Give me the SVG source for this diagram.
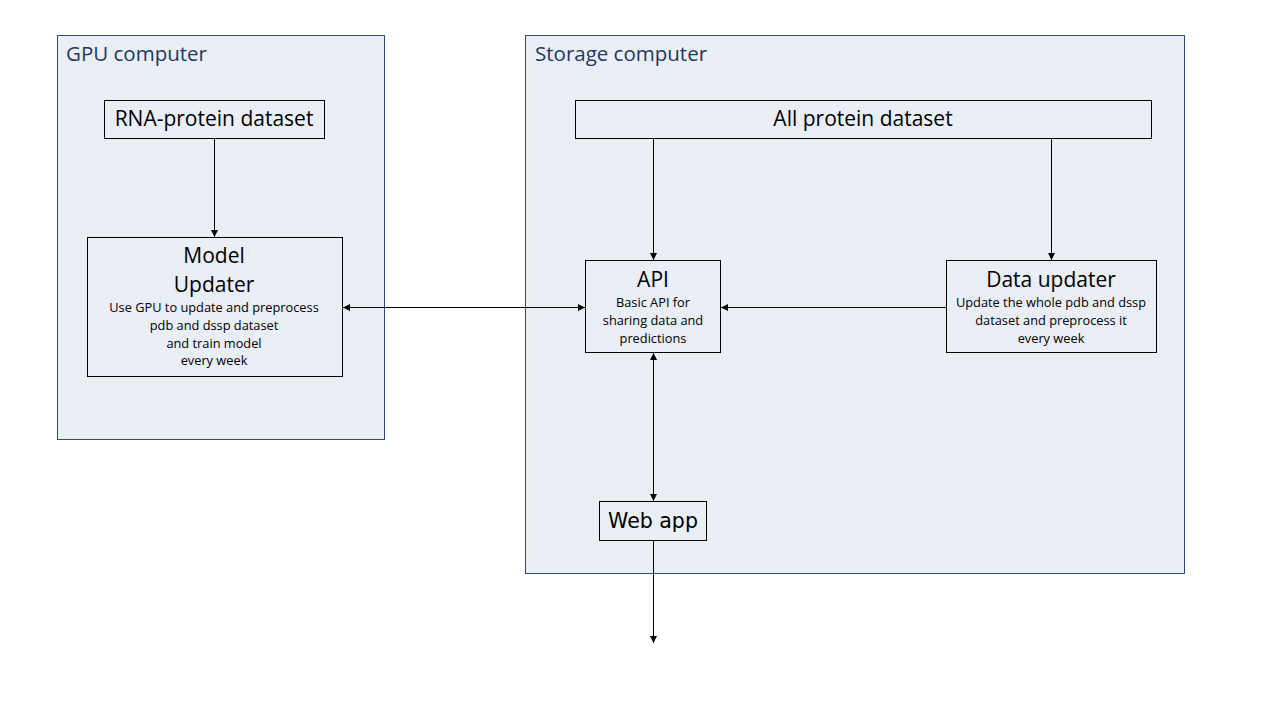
<svg xmlns="http://www.w3.org/2000/svg" width="1280" height="720" viewBox="0 0 1280 720">
<defs>
<marker id="arr" viewBox="0 0 10 10" refX="10" refY="5" markerWidth="7" markerHeight="7" markerUnits="userSpaceOnUse" orient="auto-start-reverse">
<path d="M0,0 L10,5 L0,10 z" fill="#000"/>
</marker>
<style>
.cont{fill:#E9EEF7;stroke:#2F4B7C;stroke-width:1}
.box{fill:#E9EEF7;stroke:#000;stroke-width:1}
.ctitle{font-family:"Open Sans","Liberation Sans",sans-serif;font-size:20.5px;fill:#1F3864}
.big{font-family:"Open Sans","Liberation Sans",sans-serif;font-size:21px;fill:#000;text-anchor:middle}
.small{font-family:"Open Sans","Liberation Sans",sans-serif;font-size:12.8px;fill:#000;text-anchor:middle}
.web{font-family:"DejaVu Sans",Verdana,sans-serif;font-size:20.5px;fill:#000;text-anchor:middle}
.conn{stroke:#000;stroke-width:1;fill:none}
</style>
</defs>
<rect width="1280" height="720" fill="#fff"/>
<g id="gpu-computer">
<rect class="cont" x="57.5" y="35.5" width="327" height="404"/>
<text class="ctitle" x="66" y="61">GPU computer</text>
</g>
<g id="storage-computer">
<rect class="cont" x="525.5" y="35.5" width="659" height="538"/>
<text class="ctitle" x="535" y="61">Storage computer</text>
</g>
<g id="rna-protein-dataset">
<rect class="box" x="104.5" y="100.5" width="220" height="38"/>
<text class="big" x="214" y="126">RNA-protein dataset</text>
</g>
<g id="model-updater">
<rect class="box" x="87.5" y="237.5" width="255" height="139"/>
<text class="big" x="214" y="263">Model</text>
<text class="big" x="214" y="292">Updater</text>
<text class="small" x="214" y="312">Use GPU to update and preprocess</text>
<text class="small" x="214" y="330">pdb and dssp dataset</text>
<text class="small" x="214" y="348">and train model</text>
<text class="small" x="214" y="365">every week</text>
</g>
<g id="all-protein-dataset">
<rect class="box" x="575.5" y="100.5" width="576" height="38"/>
<text class="big" x="863" y="126">All protein dataset</text>
</g>
<g id="api">
<rect class="box" x="585.5" y="260.5" width="135" height="92"/>
<text class="big" x="653" y="287">API</text>
<text class="small" x="653" y="307">Basic API for</text>
<text class="small" x="653" y="325">sharing data and</text>
<text class="small" x="653" y="343">predictions</text>
</g>
<g id="data-updater">
<rect class="box" x="946.5" y="260.5" width="210" height="92"/>
<text class="big" x="1051" y="287">Data updater</text>
<text class="small" x="1051" y="307">Update the whole pdb and dssp</text>
<text class="small" x="1051" y="325">dataset and preprocess it</text>
<text class="small" x="1051" y="343">every week</text>
</g>
<g id="web-app">
<rect class="box" x="599.5" y="501.5" width="107" height="39"/>
<text class="web" x="653" y="528">Web app</text>
</g>
<g id="connectors">
<line class="conn" x1="214.5" y1="138.5" x2="214.5" y2="237" marker-end="url(#arr)"/>
<line class="conn" x1="653.5" y1="138.5" x2="653.5" y2="260" marker-end="url(#arr)"/>
<line class="conn" x1="1051.5" y1="138.5" x2="1051.5" y2="260" marker-end="url(#arr)"/>
<line class="conn" x1="343" y1="307.5" x2="585" y2="307.5" marker-start="url(#arr)" marker-end="url(#arr)"/>
<line class="conn" x1="946" y1="307.5" x2="721" y2="307.5" marker-end="url(#arr)"/>
<line class="conn" x1="653.5" y1="353" x2="653.5" y2="501" marker-start="url(#arr)" marker-end="url(#arr)"/>
<line class="conn" x1="653.5" y1="541" x2="653.5" y2="643" marker-end="url(#arr)"/>
</g>
</svg>
